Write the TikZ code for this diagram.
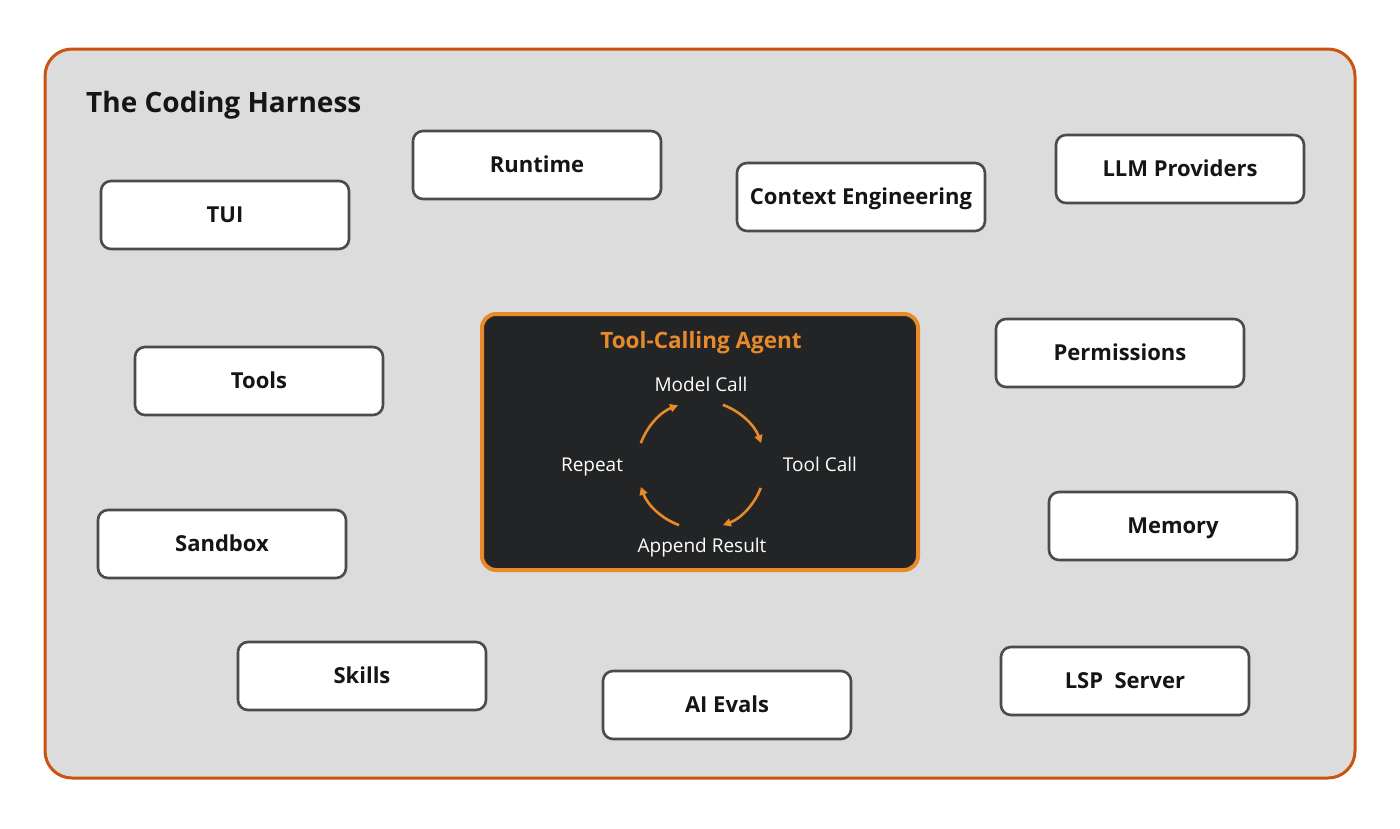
\documentclass[tikz,border=0pt]{standalone}
\usepackage{fontspec}
\setmainfont{Open Sans}
\usetikzlibrary{arrows.meta}
\definecolor{frameor}{HTML}{C9530F}
\definecolor{framebg}{HTML}{DCDCDC}
\definecolor{boxline}{HTML}{4B4B4B}
\definecolor{agentor}{HTML}{E88A2A}
\definecolor{agentbg}{HTML}{232425}
\definecolor{txt}{HTML}{151515}
\tikzset{
  comp/.style={draw=boxline, line width=2.6pt, fill=white, rounded corners=10pt,
    minimum width=248pt, minimum height=68pt, inner sep=0pt,
    text height=15.7pt, text depth=0pt,
    font=\fontsize{22}{26}\selectfont\bfseries, text=txt},
  cyc/.style={font=\fontsize{19}{22}\selectfont, text=white, inner sep=0pt,
    text height=13.6pt, text depth=0pt},
  cycarrow/.style={draw=agentor, line width=2.6pt, -{Triangle[length=8pt,width=8pt]}},
}
\begin{document}
\begin{tikzpicture}[x=1pt,y=-1pt]
\useasboundingbox (0,0) rectangle (1400,828);
% outer frame
\draw[draw=frameor, fill=framebg, line width=3pt, rounded corners=27pt] (45,49) rectangle (1355,778);
\node[anchor=base west, font=\fontsize{28}{32}\selectfont\bfseries, text=txt, inner sep=0pt] (title) at (86,112) {The Coding Harness};
% components
\node[comp] (tui)  at (225,215) {TUI};
\node[comp] (rt)   at (537,165) {Runtime};
\node[comp] (ce)   at (861,197) {Context Engineering};
\node[comp] (llm)  at (1180,169) {LLM Providers};
\node[comp] (tools) at (259,381) {Tools};
\node[comp] (perm) at (1120,353) {Permissions};
\node[comp] (sb)   at (222,544) {Sandbox};
\node[comp] (mem)  at (1173,526) {Memory};
\node[comp] (sk)   at (362,676) {Skills};
\node[comp] (ev)   at (727,705) {AI Evals};
\node[comp] (lsp)  at (1125,681) {LSP\ \ Server};
% agent
\node[draw=agentor, fill=agentbg, line width=4pt, rounded corners=14pt,
  minimum width=436pt, minimum height=256pt, inner sep=0pt] (agent) at (700,442) {};
\node[font=\fontsize{22.5}{26}\selectfont\bfseries, text=agentor, inner sep=0pt,
  text height=16.1pt, text depth=0pt] (atitle) at (701,340) {Tool-Calling Agent};
\coordinate (c) at (701,465);
\node[cyc] (mc) at (701,385) {Model Call};
\node[cyc] (tc) at (820,465) {Tool Call};
\node[cyc] (ar) at (702,546) {Append Result};
\node[cyc] (rp) at (592,465) {Repeat};
\draw[cycarrow] ([shift={(70:64pt)}]c) arc[start angle=70, end angle=20, radius=64pt];
\draw[cycarrow] ([shift={(-21:64pt)}]c) arc[start angle=-21, end angle=-70, radius=64pt];
\draw[cycarrow] ([shift={(-110:64pt)}]c) arc[start angle=-110, end angle=-160, radius=64pt];
\draw[cycarrow] ([shift={(160:64pt)}]c) arc[start angle=160, end angle=111, radius=64pt];
\end{tikzpicture}
\end{document}
